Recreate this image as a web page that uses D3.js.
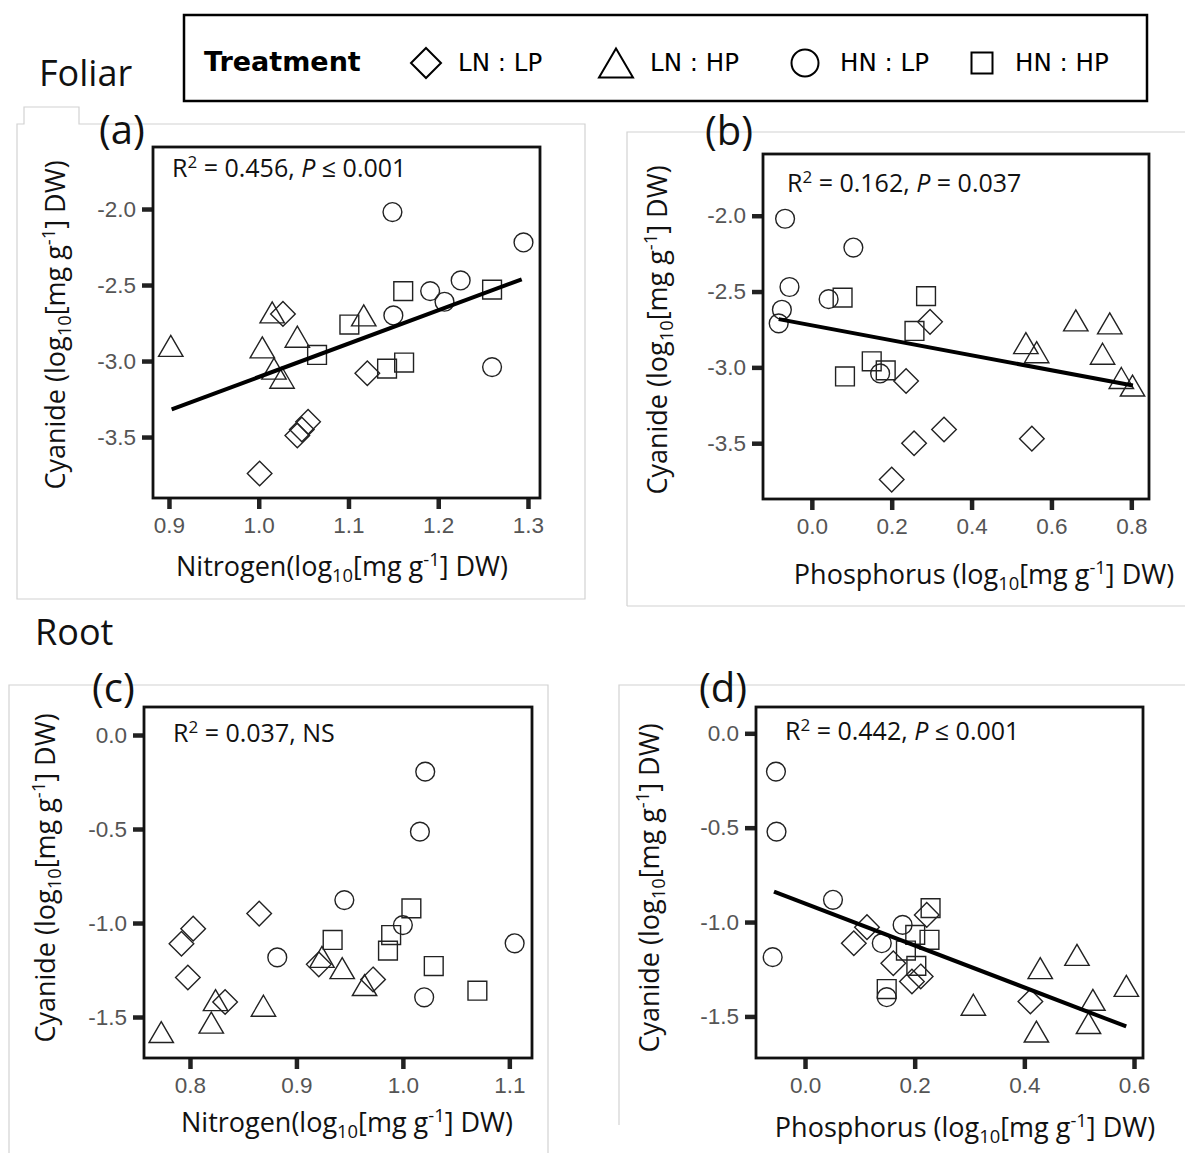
<!DOCTYPE html>
<html>
<head>
<meta charset="utf-8">
<script src="https://cdn.jsdelivr.net/npm/d3@7"></script>
<style>
  body { margin: 0; background: #fff; }
  svg { display: block; }
</style>
</head>
<body>
<svg id="fig" width="1185" height="1155"></svg>
<script>
// ---- Treatments and their marker shapes ----
const treatments = ["LN : LP", "LN : HP", "HN : LP", "HN : HP"];
const shapeNames = ["diamond", "triangle", "circle", "square"];

// ---- (a) Foliar nitrogen vs cyanide, log10 values ----
const aLNLP = [[1.027,-2.69],[1.121,-3.08],[1.055,-3.40],[1.048,-3.45],[1.043,-3.49],[1.001,-3.74]];
const aLNHP = [[0.902,-2.90],[1.015,-2.68],[1.004,-2.91],[1.043,-2.84],[1.017,-3.05],[1.026,-3.11],[1.117,-2.70]];
const aHNLP = [[1.149,-2.02],[1.295,-2.22],[1.225,-2.47],[1.191,-2.54],[1.207,-2.61],[1.150,-2.70],[1.260,-3.04]];
const aHNHP = [[1.101,-2.76],[1.065,-2.96],[1.161,-2.54],[1.143,-3.05],[1.162,-3.01],[1.260,-2.53]];

// ---- (b) Foliar phosphorus vs cyanide ----
const bLNLP = [[0.296,-2.70],[0.236,-3.09],[0.331,-3.41],[0.256,-3.50],[0.200,-3.74],[0.551,-3.47]];
const bLNHP = [[0.661,-2.69],[0.746,-2.71],[0.536,-2.84],[0.563,-2.90],[0.728,-2.91],[0.775,-3.07],[0.803,-3.12]];
const bHNLP = [[-0.067,-2.02],[0.104,-2.21],[-0.056,-2.47],[0.042,-2.55],[-0.075,-2.62],[-0.083,-2.71],[0.171,-3.04]];
const bHNHP = [[0.077,-2.54],[0.286,-2.53],[0.257,-2.76],[0.150,-2.96],[0.185,-3.02],[0.083,-3.06]];

// ---- (c) Root nitrogen vs cyanide ----
const cLNLP = [[0.803,-1.03],[0.792,-1.11],[0.865,-0.95],[0.798,-1.29],[0.833,-1.42],[0.921,-1.22],[0.972,-1.30]];
const cLNHP = [[0.773,-1.58],[0.820,-1.53],[0.824,-1.41],[0.869,-1.44],[0.924,-1.18],[0.943,-1.24],[0.964,-1.33]];
const cHNLP = [[1.021,-0.195],[1.016,-0.514],[0.945,-0.878],[1.000,-1.011],[0.882,-1.183],[1.105,-1.108],[1.020,-1.395]];
const cHNHP = [[1.008,-0.922],[0.934,-1.09],[0.989,-1.064],[0.986,-1.147],[1.029,-1.229],[1.070,-1.36]];

// ---- (d) Root phosphorus vs cyanide ----
const dLNLP = [[0.222,-0.962],[0.113,-1.027],[0.089,-1.112],[0.161,-1.218],[0.211,-1.288],[0.195,-1.315],[0.411,-1.421]];
const dLNHP = [[0.429,-1.244],[0.496,-1.174],[0.586,-1.338],[0.307,-1.438],[0.525,-1.412],[0.517,-1.535],[0.422,-1.58]];
const dHNLP = [[-0.053,-0.203],[-0.052,-0.521],[-0.059,-1.186],[0.051,-0.882],[0.178,-1.015],[0.140,-1.112],[0.149,-1.398]];
const dHNHP = [[0.229,-0.926],[0.227,-1.094],[0.201,-1.068],[0.184,-1.151],[0.203,-1.232],[0.149,-1.355]];

// ---- Fitted regression lines: [slope, intercept, xStart, xEnd] ----
const fitA = [2.192, -5.297, 0.903, 1.293];
const fitB = [-0.4938, -2.723, -0.083, 0.804];
const fitD = [-1.1123, -0.9015, -0.0566, 0.5858];

// ---- Axis ticks ----
const xTicksA = [0.9, 1.0, 1.1, 1.2, 1.3];
const xTicksB = [0.0, 0.2, 0.4, 0.6, 0.8];
const xTicksC = [0.8, 0.9, 1.0, 1.1];
const xTicksD = [0.0, 0.2, 0.4, 0.6];
const yTicksFoliar = [-2.0, -2.5, -3.0, -3.5];
const yTicksRoot = [0.0, -0.5, -1.0, -1.5];

// ---- Statistics annotations ----
const statA = ["0.456", "≤", "0.001"];
const statB = ["0.162", "=", "0.037"];
const statC = ["0.037", null, "NS"];
const statD = ["0.442", "≤", "0.001"];

const svg = d3.select("#fig");
const TITLE_FONT = "'Open Sans', Lato, sans-serif";
const TICK_FONT = "'Liberation Sans', Arial, sans-serif";
const LEGEND_FONT = "'DejaVu Sans', sans-serif";

// Custom marker shapes, sized by half-width r
function markerPath(shape, r) {
  const p = d3.path();
  if (shape === "diamond") {
    p.moveTo(0, -r); p.lineTo(r, 0); p.lineTo(0, r); p.lineTo(-r, 0); p.closePath();
  } else if (shape === "triangle") {
    const h = r * 0.86;
    p.moveTo(0, -h); p.lineTo(r, h); p.lineTo(-r, h); p.closePath();
  } else if (shape === "square") {
    p.rect(-r, -r, 2 * r, 2 * r);
  } else {
    p.arc(0, 0, r, 0, 2 * Math.PI); p.closePath();
  }
  return p.toString();
}
const markerSize = { diamond: 12.3, triangle: 12.2, circle: 9.4, square: 9.4 };

// Text with sub/superscript and italic runs
function rich(sel, parts, fs) {
  let shift = 0;
  parts.forEach(p => {
    const [str, kind] = typeof p === "string" ? [p, null] : p;
    let target = 0, size = fs;
    if (kind === "sup") { target = -0.36 * fs; size = 0.68 * fs; }
    if (kind === "sub") { target = 0.24 * fs; size = 0.68 * fs; }
    const t = sel.append("tspan").attr("dy", target - shift).attr("font-size", size).text(str);
    if (kind === "it") t.attr("font-style", "italic");
    shift = target;
  });
}

const unitParts = nutrient => [nutrient + "(log", ["10", "sub"], "[mg g", ["-1", "sup"], "] DW)"];
const yTitleParts = ["Cyanide (log", ["10", "sub"], "[mg g", ["-1", "sup"], "] DW)"];

// ---- Panel frames (light grey outlines) ----
const frames = svg.append("g").attr("fill", "none").attr("stroke", "#d2d2d2").attr("stroke-width", 1.2);
frames.append("path").attr("d", "M17,599 L17,124 L24,124 L24,107 L79,107 L79,124 L585,124 L585,599 Z");
frames.append("path").attr("d", "M627,606 L627,132 L1185,132");
frames.append("path").attr("d", "M627,606 L1185,606");
frames.append("path").attr("d", "M9,1153 L9,685 L548,685 L548,1153");
frames.append("path").attr("d", "M619,1125 L619,685 L1185,685");

// ---- Section headings ----
svg.append("text").attr("x", 39).attr("y", 86).attr("font-family", TITLE_FONT)
  .attr("font-size", 36).attr("fill", "#111").text("Foliar");
svg.append("text").attr("x", 35).attr("y", 645).attr("font-family", TITLE_FONT)
  .attr("font-size", 36).attr("fill", "#111").text("Root");

// ---- Legend ----
const legend = svg.append("g");
legend.append("rect").attr("x", 184).attr("y", 15).attr("width", 963).attr("height", 86)
  .attr("fill", "#fff").attr("stroke", "#000").attr("stroke-width", 2.5);
legend.append("text").attr("x", 204).attr("y", 71).attr("font-family", LEGEND_FONT)
  .attr("font-weight", "bold").attr("font-size", 27).attr("fill", "#000").text("Treatment");
const legendItems = [
  { sx: 426, tx: 458, r: 15 },
  { sx: 616, tx: 650, r: 17 },
  { sx: 805, tx: 840, r: 13.5 },
  { sx: 982, tx: 1015, r: 10.5 }
];
treatments.forEach((t, i) => {
  const it = legendItems[i];
  legend.append("path").attr("transform", `translate(${it.sx},63)`)
    .attr("d", markerPath(shapeNames[i], it.r))
    .attr("fill", "none").attr("stroke", "#000").attr("stroke-width", 2);
  legend.append("text").attr("x", it.tx).attr("y", 71).attr("font-family", LEGEND_FONT)
    .attr("font-size", 24.5).attr("fill", "#000").text(t);
});

// ---- Panels ----
const panels = [
  { tag: "(a)", tagX: 99, tagY: 144, box: [153, 147, 540, 498],
    xDom: [0.8822, 1.3134], yDom: [-3.901, -1.592], xTicks: xTicksA, yTicks: yTicksFoliar,
    series: [aLNLP, aLNHP, aHNLP, aHNHP], fit: fitA, stat: statA, statX: 172, statY: 177,
    xTitle: unitParts("Nitrogen"), xTitleX: 342, xTitleY: 576, yTitleX: 56, yTitleY: 325 },
  { tag: "(b)", tagX: 705, tagY: 145, box: [763, 154, 1149, 499],
    xDom: [-0.1223, 0.8443], yDom: [-3.868, -1.593], xTicks: xTicksB, yTicks: yTicksFoliar,
    series: [bLNLP, bLNHP, bHNLP, bHNHP], fit: fitB, stat: statB, statX: 787, statY: 192,
    xTitle: ["Phosphorus (log", ["10", "sub"], "[mg g", ["-1", "sup"], "] DW)"], xTitleX: 984, xTitleY: 584, yTitleX: 658, yTitleY: 330 },
  { tag: "(c)", tagX: 92, tagY: 702, box: [144, 707, 532, 1058],
    xDom: [0.7568, 1.1213], yDom: [-1.718, 0.149], xTicks: xTicksC, yTicks: yTicksRoot,
    series: [cLNLP, cLNHP, cHNLP, cHNHP], fit: null, stat: statC, statX: 173, statY: 742,
    xTitle: unitParts("Nitrogen"), xTitleX: 347, xTitleY: 1132, yTitleX: 46, yTitleY: 878 },
  { tag: "(d)", tagX: 699, tagY: 702, box: [756, 707, 1143, 1058],
    xDom: [-0.0894, 0.6164], yDom: [-1.7202, 0.1393], xTicks: xTicksD, yTicks: yTicksRoot,
    series: [dLNLP, dLNHP, dHNLP, dHNHP], fit: fitD, stat: statD, statX: 785, statY: 740,
    xTitle: ["Phosphorus (log", ["10", "sub"], "[mg g", ["-1", "sup"], "] DW)"], xTitleX: 965, xTitleY: 1137, yTitleX: 650, yTitleY: 888 }
];

const fmt = d => d.toFixed(1);

panels.forEach(P => {
  const [x0, y0, x1, y1] = P.box;
  const x = d3.scaleLinear().domain(P.xDom).range([x0, x1]);
  const y = d3.scaleLinear().domain(P.yDom).range([y1, y0]);
  const g = svg.append("g");

  // panel tag
  g.append("text").attr("x", P.tagX).attr("y", P.tagY).attr("font-family", TITLE_FONT)
    .attr("font-size", 40).attr("fill", "#111").text(P.tag);

  // axes with heavy outward ticks
  const xAxis = g.append("g").attr("transform", `translate(0,${y1})`)
    .call(d3.axisBottom(x).tickValues(P.xTicks).tickFormat(fmt).tickSize(11).tickPadding(8));
  const yAxis = g.append("g").attr("transform", `translate(${x0},0)`)
    .call(d3.axisLeft(y).tickValues(P.yTicks).tickFormat(fmt).tickSize(11).tickPadding(6));
  [xAxis, yAxis].forEach(a => {
    a.select(".domain").remove();
    a.selectAll(".tick line").attr("stroke", "#222").attr("stroke-width", 4.5);
    a.selectAll(".tick text").attr("font-family", TICK_FONT).attr("font-size", 22.5).attr("fill", "#555");
  });

  // plot frame
  g.append("rect").attr("x", x0).attr("y", y0).attr("width", x1 - x0).attr("height", y1 - y0)
    .attr("fill", "none").attr("stroke", "#111").attr("stroke-width", 2.8);

  // points
  P.series.forEach((pts, i) => {
    g.append("g").selectAll("path").data(pts).join("path")
      .attr("transform", d => `translate(${x(d[0])},${y(d[1])})`)
      .attr("d", markerPath(shapeNames[i], markerSize[shapeNames[i]]))
      .attr("fill", "none").attr("stroke", "#222").attr("stroke-width", 1.4);
  });

  // regression line
  if (P.fit) {
    const [m, b, xa, xb] = P.fit;
    g.append("line")
      .attr("x1", x(xa)).attr("y1", y(m * xa + b))
      .attr("x2", x(xb)).attr("y2", y(m * xb + b))
      .attr("stroke", "#000").attr("stroke-width", 4);
  }

  // R² annotation
  const [r2, rel, pv] = P.stat;
  const st = g.append("text").attr("x", P.statX).attr("y", P.statY)
    .attr("font-family", TITLE_FONT).attr("fill", "#111");
  const parts = ["R", ["2", "sup"], " = " + r2 + ", "];
  if (rel) { parts.push(["P", "it"]); parts.push(" " + rel + " " + pv); }
  else parts.push(pv);
  rich(st, parts, 25);

  // axis titles
  const xt = g.append("text").attr("x", P.xTitleX).attr("y", P.xTitleY)
    .attr("text-anchor", "middle").attr("font-family", TITLE_FONT).attr("fill", "#111");
  rich(xt, P.xTitle, 27);
  const yt = g.append("text").attr("transform", `translate(${P.yTitleX + 9},${P.yTitleY}) rotate(-90)`)
    .attr("text-anchor", "middle").attr("font-family", TITLE_FONT).attr("fill", "#111");
  rich(yt, yTitleParts, 27);
});
</script>
</body>
</html>
